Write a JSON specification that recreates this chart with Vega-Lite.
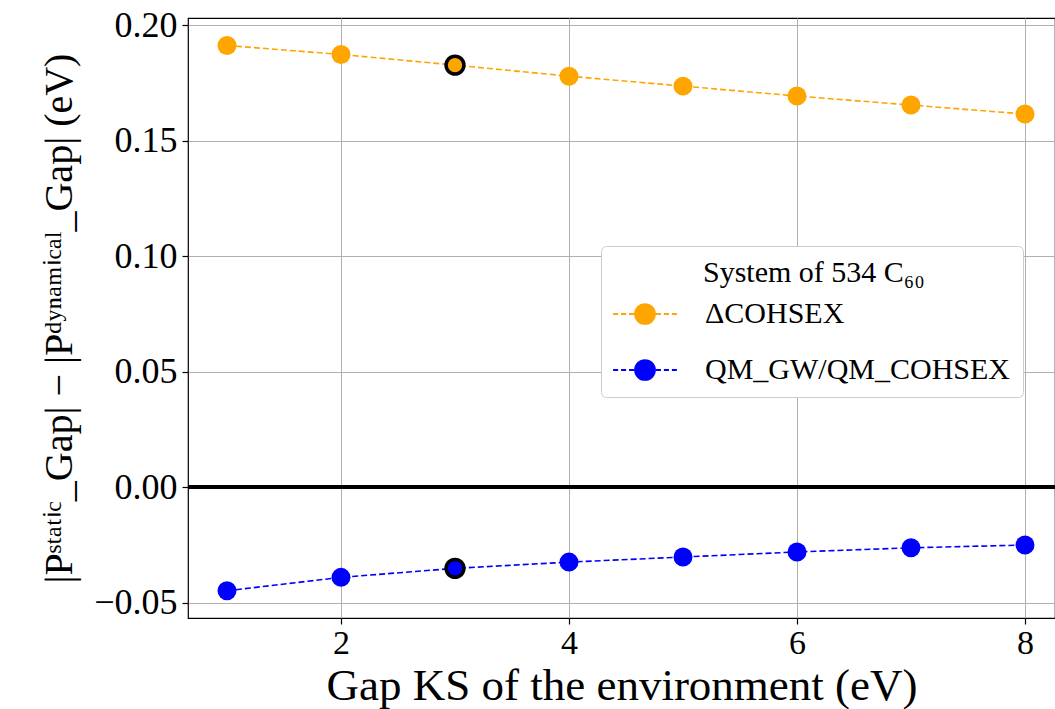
{
  "$schema": "https://vega.github.io/schema/vega-lite/v6.json",
  "width": 867,
  "height": 600,
  "autosize": {"type": "none"},
  "padding": {"left": 188, "top": 18, "right": 0, "bottom": 91},
  "background": "white",
  "config": {
    "font": "Liberation Serif",
    "view": {"stroke": "#000000", "strokeWidth": 1.2},
    "axis": {
      "labelFont": "Liberation Serif",
      "titleFont": "Liberation Serif",
      "labelFontSize": 36,
      "titleFontSize": 44,
      "titleFontWeight": "normal",
      "labelColor": "#000000",
      "titleColor": "#000000",
      "tickColor": "#000000",
      "tickSize": 6,
      "tickWidth": 1.2,
      "domain": false,
      "gridColor": "#b0b0b0",
      "gridWidth": 1
    },
    "legend": {
      "labelFont": "Liberation Serif",
      "titleFont": "Liberation Serif"
    }
  },
  "data": {
    "values": [
      {"gap": 1, "diff": 0.1912, "series": "ΔCOHSEX", "highlight": false},
      {"gap": 2, "diff": 0.1873, "series": "ΔCOHSEX", "highlight": false},
      {"gap": 3, "diff": 0.1827, "series": "ΔCOHSEX", "highlight": true},
      {"gap": 4, "diff": 0.1779, "series": "ΔCOHSEX", "highlight": false},
      {"gap": 5, "diff": 0.1736, "series": "ΔCOHSEX", "highlight": false},
      {"gap": 6, "diff": 0.1693, "series": "ΔCOHSEX", "highlight": false},
      {"gap": 7, "diff": 0.1654, "series": "ΔCOHSEX", "highlight": false},
      {"gap": 8, "diff": 0.1615, "series": "ΔCOHSEX", "highlight": false},
      {"gap": 1, "diff": -0.0449, "series": "QM_GW/QM_COHSEX", "highlight": false},
      {"gap": 2, "diff": -0.0391, "series": "QM_GW/QM_COHSEX", "highlight": false},
      {"gap": 3, "diff": -0.0352, "series": "QM_GW/QM_COHSEX", "highlight": true},
      {"gap": 4, "diff": -0.0325, "series": "QM_GW/QM_COHSEX", "highlight": false},
      {"gap": 5, "diff": -0.0303, "series": "QM_GW/QM_COHSEX", "highlight": false},
      {"gap": 6, "diff": -0.0281, "series": "QM_GW/QM_COHSEX", "highlight": false},
      {"gap": 7, "diff": -0.0263, "series": "QM_GW/QM_COHSEX", "highlight": false},
      {"gap": 8, "diff": -0.0251, "series": "QM_GW/QM_COHSEX", "highlight": false}
    ]
  },
  "encoding": {
    "x": {
      "field": "gap",
      "type": "quantitative",
      "scale": {"domain": [0.658, 8.263], "nice": false, "zero": false},
      "axis": {"values": [2, 4, 6, 8], "format": "d", "title": "Gap KS of the environment (eV)", "labelFontSize": 34, "titleFontSize": 45, "labelPadding": 2, "titlePadding": 3}
    },
    "y": {
      "field": "diff",
      "type": "quantitative",
      "scale": {"domain": [-0.0567, 0.2031], "nice": false, "zero": false},
      "axis": {"values": [-0.05, 0, 0.05, 0.1, 0.15, 0.2], "format": ".2f", "title": "|Pˢᵗᵃᵗⁱᶜ_Gap| − |Pᵈʸⁿᵃᵐⁱᶜᵃˡ_Gap| (eV)", "titleFontSize": 40, "labelPadding": 5, "titlePadding": 14}
    }
  },
  "layer": [
    {
      "mark": {"type": "rule", "color": "#000000", "strokeWidth": 3},
      "encoding": {"y": {"datum": 0}, "x": {"value": 0}, "x2": {"value": 867}}
    },
    {
      "mark": {"type": "line", "strokeDash": [6, 3], "strokeWidth": 1.6},
      "encoding": {
        "color": {
          "field": "series",
          "type": "nominal",
          "scale": {"domain": ["ΔCOHSEX", "QM_GW/QM_COHSEX"], "range": ["#FFA500", "#0000FF"]},
          "legend": {
            "orient": "none",
            "legendX": 413,
            "legendY": 228,
            "title": "System of 534 C₆₀",
            "titleFontSize": 30,
            "titleFontWeight": "normal",
            "titleColor": "#000000",
            "titleAnchor": "start",
            "titlePadding": 4,
            "titleLimit": 600,
            "labelFontSize": 30,
            "labelLimit": 600,
            "labelColor": "#000000",
            "labelOffset": 38,
            "symbolOffset": 10,
            "rowPadding": 19,
            "padding": 12,
            "fillColor": "#ffffff",
            "strokeColor": "#cccccc",
            "cornerRadius": 5,
            "symbolType": "M-1.52,0H-1.28M-1.14,0H-0.9M-0.76,0H-0.52M0.52,0H0.76M0.9,0H1.14M1.28,0H1.52M-0.47,0A0.47,0.47 0 1,0 0.47,0A0.47,0.47 0 1,0 -0.47,0Z",
            "symbolSize": 1764,
            "symbolStrokeWidth": 2,
            "encode": {
              "title": {"update": {"dx": {"value": 90}}},
              "symbols": {
                "update": {
                  "fill": {"scale": "color", "field": "value"},
                  "stroke": {"scale": "color", "field": "value"},
                  "strokeWidth": {"value": 2},
                  "opacity": {"value": 1}
                }
              }
            }
          }
        }
      }
    },
    {
      "mark": {"type": "point", "filled": true, "size": 360, "opacity": 1},
      "encoding": {
        "color": {"field": "series", "type": "nominal"}
      }
    },
    {
      "transform": [{"filter": "datum.highlight"}],
      "mark": {"type": "point", "filled": true, "size": 320, "opacity": 1, "stroke": "#000000", "strokeWidth": 3.5},
      "encoding": {
        "color": {"field": "series", "type": "nominal", "legend": null}
      }
    }
  ]
}
